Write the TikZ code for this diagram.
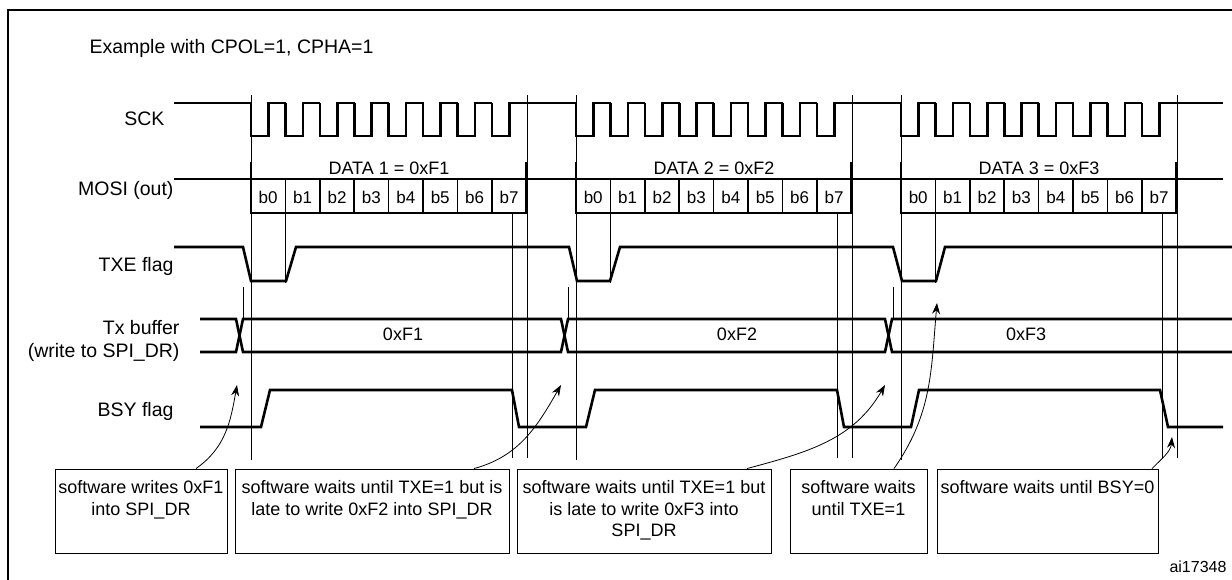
\documentclass[tikz,border=0pt]{standalone}
\usepackage{fontspec}
\setmainfont{Liberation Sans}
\usetikzlibrary{arrows.meta}
\tikzset{
	sig/.style={line width=2.6pt, line join=miter},
	guide/.style={line width=0.6pt},
	lbl/.style={font=\fontsize{19.5}{23}\selectfont, anchor=east},
	swbox/.style={draw, line width=0.9pt, minimum height=84pt, inner sep=0pt},
	swtext/.style={font=\fontsize{18}{21.5}\selectfont, align=center, anchor=north, inner sep=0pt},
	swarrow/.style={line width=0.8pt, -{Stealth[length=11pt,width=8pt]}}
}
\begin{document}
\begin{tikzpicture}[x=1pt, y=-1pt, font=\fontsize{18}{21}\selectfont]
	\useasboundingbox (0,0) rectangle (1232,580);
	%frame
	\draw[line width=1.5pt] (8,590) -- (8,10) -- (1240,10);
	\node[anchor=west, font=\fontsize{19.5}{23}\selectfont] (title) at (86,48) {Example with CPOL=1, CPHA=1};
	%labels
	\node[lbl] (sck) at (168,119) {SCK};
	\node[lbl] (mosi) at (177,190) {MOSI (out)};
	\node[lbl] (txe) at (177,266) {TXE flag};
	\node[lbl, align=right] (txbuf) at (183,341) {Tx buffer\\(write to SPI\_DR)};
	\node[lbl] (bsy) at (177,411) {BSY flag};
	%SCK
	\draw[sig] (174,103) -- (252,103);
	\draw[sig] (525,103) -- (577,103);
	\draw[sig] (850,103) -- (902,103);
	\draw[sig] (1175,103) -- (1223,103);
	\foreach \g in {251,576,901}
	\foreach \k in {0,...,7}
	{
		\pgfmathsetmacro\xa{\g+34.4*\k}
		\draw[sig] (\xa,103) -- (\xa,136) -- ++(17.4,0) -- ++(0,-33) -- ++(17.5,0);
	}
	%MOSI
	\draw[sig] (174,179) -- (1223,179);
	\foreach \g/\n in {251/1,576/2,901/3}
	{
		\draw[sig] (\g,162) -- (\g,213) -- (\g+275,213) -- (\g+275,162);
		\node (data\n) at (\g+138,168) {DATA \n{} = 0xF\n};
		\foreach \k in {0,...,7}
		{
			\pgfmathsetmacro\xa{\g+34.4*\k}
			\draw[line width=1.6pt] (\xa,179) -- (\xa,213);
			\node[font=\fontsize{17}{19}\selectfont] (b\n\k) at (\xa+17.2,197) {b\k};
		}
	}
	%guides
	\foreach \g in {251,576,901}
	{
		\draw[guide] (\g,95) -- (\g,460);
		\draw[guide] (\g+276,95) -- (\g+276,458);
		\draw[guide] (\g+261,213) -- (\g+261,458);
		\draw[guide] (\g+34.4,213) -- (\g+34.4,283);
		\draw[guide] (\g-8,287) -- (\g-8,319);
	}
	%TXE
	\draw[sig] (174,247) -- (243,247) -- (251,281) -- (286,281) -- (296,247)
	-- (569,247) -- (577,281) -- (610,281) -- (620,247)
	-- (893,247) -- (902,281) -- (936,281) -- (945,247) -- (1232,247);
	%Tx buffer
	\draw[sig] (200,319) -- (236,319) -- (243,352) -- (561,352) -- (568,319)
	-- (885,319) -- (892,352) -- (1232,352);
	\draw[sig] (200,352) -- (236,352) -- (243,319) -- (561,319) -- (568,352)
	-- (885,352) -- (892,319) -- (1232,319);
	\node (vf1) at (403,334) {0xF1};
	\node (vf2) at (737,334) {0xF2};
	\node (vf3) at (1026,334) {0xF3};
	%BSY
	\draw[sig] (200,427) -- (261,427) -- (270,390) -- (512,390) -- (519,427)
	-- (586,427) -- (595,390) -- (837,390) -- (844,427)
	-- (911,427) -- (919,390) -- (1160,390) -- (1168,427) -- (1223,427);
	%software boxes
	\node[swbox, minimum width=172pt] (sw1) at (141,511) {};
	\node[swbox, minimum width=274pt] (sw2) at (372,511) {};
	\node[swbox, minimum width=254pt] (sw3) at (644,511) {};
	\node[swbox, minimum width=137pt] (sw4) at (858.5,511) {};
	\node[swbox, minimum width=221pt] (sw5) at (1047.5,511) {};
	\node[swtext] (t1) at ([yshift=-12pt]sw1.north) {software writes 0xF1\\into SPI\_DR};
	\node[swtext] (t2) at ([yshift=-12pt]sw2.north) {software waits until TXE=1 but is\\late to write 0xF2 into SPI\_DR};
	\node[swtext] (t3) at ([yshift=-12pt]sw3.north) {software waits until TXE=1 but\\is late to write 0xF3 into\\SPI\_DR};
	\node[swtext] (t4) at ([yshift=-12pt]sw4.north) {software waits\\until TXE=1};
	\node[swtext] (t5) at ([yshift=-12pt]sw5.north) {software waits until BSY=0};
	%arrows
	\coordinate (p1) at (237,385);
	\coordinate (p2) at (561,385);
	\coordinate (p3) at (885,385);
	\coordinate (p4) at (937,303);
	\coordinate (p5) at (1172,437);
	\draw[swarrow] ([xshift=55pt]sw1.north) to[out=35, in=260] (p1);
	\draw[swarrow] ([xshift=102pt]sw2.north) to[out=15, in=240] (p2);
	\draw[swarrow] ([xshift=103pt]sw3.north) to[out=15, in=240] (p3);
	\draw[swarrow] ([xshift=35.5pt]sw4.north) to[out=55, in=265] (p4);
	\draw[swarrow] ([xshift=104.5pt]sw5.north) to[out=45, in=265] (p5);
	\node[anchor=east, font=\fontsize{16}{18}\selectfont] (ref) at (1230,567) {ai17348};
\end{tikzpicture}
\end{document}
